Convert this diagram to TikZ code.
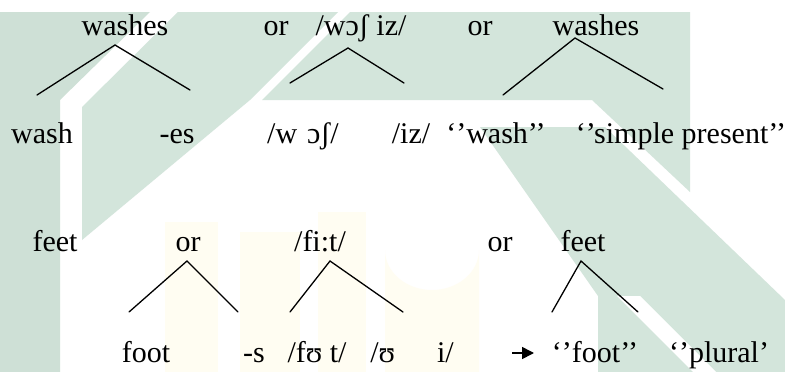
\documentclass[tikz,border=0pt]{standalone}
\usepackage{fontspec}
\setmainfont{Liberation Serif}
\usetikzlibrary{arrows.meta}
\definecolor{wmgreen}{HTML}{D3E5DB}
\definecolor{wmgreendark}{HTML}{CEE0D6}
\definecolor{wmyellow}{HTML}{FFFDF2}
\tikzset{
  lbl/.style={anchor=base, inner sep=0pt, font=\fontsize{30}{32}\selectfont},
  branch/.style={line width=1.3pt, line cap=round},
  wm/.style={fill=wmgreen, draw=none},
  wmy/.style={fill=wmyellow, draw=none}
}
\begin{document}
\begin{tikzpicture}[x=1pt, y=-1pt]
\useasboundingbox (0,0) rectangle (785,372);
\fill[white] (0,0) rectangle (785,372);
% watermark
\fill[wmy] (165,222) rectangle (218,372);
\fill[wmy] (240,232) rectangle (300,372);
\fill[wmy] (318,212) rectangle (366,372);
\fill[wmy] (385,372) -- (385,250) arc[start angle=180, end angle=0, x radius=47, y radius=40] -- (479,372) -- cycle;
\fill[wmgreendark] (0,12) -- (150,12) -- (60,100) -- (60,372) -- (0,372) -- cycle;
\fill[wm] (82,107) -- (178,12) -- (338,12) -- (250,100) -- (82,240) -- cycle;
\fill[wm] (350,12) -- (690,12) -- (690,192) -- (592,100) -- (262,100) -- cycle;
\fill[wm] (480,127) -- (605,127) -- (785,300) -- (785,372) -- (598,372) -- (598,296) -- cycle;
\fill[white] (617,296) -- (640,296) -- (716,372) -- (693,372) -- cycle;

% row 1
\node[lbl] (w1) at (125,35) {washes};
\node[lbl] (or1) at (276,35) {or};
\node[lbl] (ph1) at (361,35) {/wɔʃ iz/};
\node[lbl] (or2) at (480,35) {or};
\node[lbl] (w2) at (596,35) {washes};
% row 2
\node[lbl] (wash) at (42,143) {wash};
\node[lbl] (es) at (177,143) {-es};
\node[lbl] (ph2) at (303,143) {/w\hspace{10pt}ɔʃ/};
\node[lbl] (iz) at (411,143) {/iz/};
\node[lbl] (qwash) at (496,143) {‘’wash’’};
\node[lbl] (qsp) at (681,143) {‘’simple present’’};
% row 3
\node[lbl] (f1) at (55,251) {feet};
\node[lbl] (or3) at (188,251) {or};
\node[lbl] (fit) at (320,251) {/fi:t/};
\node[lbl] (or4) at (500,251) {or};
\node[lbl] (f2) at (583,251) {feet};
% row 4
\node[lbl] (foot) at (146,362) {foot};
\node[lbl] (s) at (254,362) {-s};
\node[lbl] (fut) at (317,362) {/fʊ t/};
\node[lbl] (ui) at (412,362) {/ʊ\hspace{42pt}i/};
\node[lbl] (qfoot) at (595,362) {‘’foot’’};
\node[lbl] (qpl) at (719,362) {‘’plural’};

% tree coordinates
\coordinate (a1) at (115,45); \coordinate (l1) at (37,95); \coordinate (r1) at (190,90);
\coordinate (a2) at (348,48); \coordinate (l2) at (290,83); \coordinate (r2) at (404,83);
\coordinate (a3) at (575,38); \coordinate (l3) at (503,95); \coordinate (r3) at (663,89);
\coordinate (a4) at (187,261); \coordinate (l4) at (129,312); \coordinate (r4) at (238,312);
\coordinate (a5) at (330,261); \coordinate (l5) at (290,312); \coordinate (r5) at (403,312);
\coordinate (a6) at (581,261); \coordinate (l6) at (552,312); \coordinate (r6) at (638,312);
\foreach \i in {1,...,6} {
  \draw[branch] (l\i) -- (a\i) -- (r\i);
}
% arrow
\coordinate (arS) at (512,353);
\coordinate (arE) at (534,353);
\draw[line width=1.6pt, -{Triangle[length=12pt,width=12pt]}] (arS) -- (arE);
\end{tikzpicture}
\end{document}
